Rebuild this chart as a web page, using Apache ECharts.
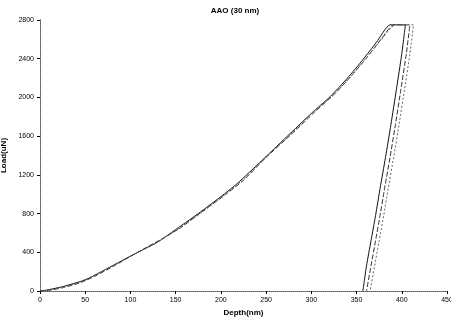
<!DOCTYPE html>
<html>
<head>
<meta charset="utf-8">
<script src="https://cdn.jsdelivr.net/npm/echarts@6/dist/echarts.min.js"></script>
<style>html,body{margin:0;padding:0;background:#fff}#c{width:451px;height:326px}</style>
</head>
<body>
<div id="c"></div>
<script>
var chartTitle = "AAO (30 nm)";
var xName = "Depth(nm)";
var yName = "Load(uN)";

var depth1 = [0,10,25,40,51,70,103,130,147,175,200,218,245,273,300,321,340,357,372,387, 393,400,404, 400,394,388,382,376,371,366,361,357];
var load1  = [0,14,45,85,118,210,375,505,615,800,975,1110,1345,1595,1835,2010,2200,2390,2570,2750, 2750,2750,2750, 2450,2080,1720,1380,1060,780,520,260,0];

var depth2 = [0,12,28,45,60,80,108,135,155,180,205,225,250,278,305,325,345,362,377,391, 397,404,409, 405,399,393,387,381,376,371,366,361];
var load2  = [0,10,40,88,150,250,400,540,650,825,995,1145,1380,1620,1860,2030,2230,2420,2600,2750, 2750,2750,2750, 2450,2080,1720,1380,1060,780,520,260,0];

var depth3 = [0,8,22,38,55,75,100,128,150,178,202,222,248,276,302,324,343,360,376,393, 400,407,413, 409,403,397,391,385,380,375,370,365];
var load3  = [0,8,35,75,140,235,360,495,625,805,980,1130,1370,1610,1850,2020,2215,2400,2580,2750, 2750,2750,2750, 2450,2080,1720,1380,1060,780,520,260,0];

function pairs(xs, ys){ return xs.map(function(x,i){ return [x, ys[i]]; }); }

var chart = echarts.init(document.getElementById('c'), null, {renderer:'canvas'});
var font = 'Liberation Sans';
chart.setOption({
  animation:false,
  backgroundColor:'#fff',
  title:{text:chartTitle,left:230,top:2,textAlign:'center',
    textStyle:{fontFamily:font,fontSize:8,fontWeight:'bold',color:'#000'}},
  grid:{left:40,right:4,top:20,bottom:35,containLabel:false,outerBoundsMode:'none'},
  xAxis:[{type:'value',min:0,max:450,interval:50,
    name:xName,nameLocation:'middle',nameGap:18,
    nameTextStyle:{fontFamily:font,fontSize:8,fontWeight:'bold',color:'#000'},
    axisLine:{lineStyle:{color:'#000',width:1}},
    axisTick:{show:true,length:3,lineStyle:{color:'#000'}},
    axisLabel:{fontFamily:font,fontSize:7,color:'#000',margin:6,formatter:function(v){return String(v);}},
    splitLine:{show:false}},
   {type:'value',position:'top',min:0,max:450,
    axisLine:{show:true,lineStyle:{color:'#888',type:'dotted',width:1}},
    axisTick:{show:false},axisLabel:{show:false},splitLine:{show:false}}],
  yAxis:[{type:'value',min:0,max:2800,interval:400,
    name:yName,nameLocation:'middle',nameGap:25,nameRotate:90,
    nameTextStyle:{fontFamily:font,fontSize:8,fontWeight:'bold',color:'#000'},
    axisLine:{show:true,lineStyle:{color:'#000',width:1}},
    axisTick:{show:true,length:3,lineStyle:{color:'#000'}},
    axisLabel:{fontFamily:font,fontSize:7,color:'#000',margin:6,formatter:function(v){return String(v);}},
    splitLine:{show:false}},
   {type:'value',position:'right',min:0,max:2800,
    axisLine:{show:true,lineStyle:{color:'#888',type:'dotted',width:1}},
    axisTick:{show:false},axisLabel:{show:false},splitLine:{show:false}}],
  series:[
    {type:'line',data:pairs(depth1,load1),showSymbol:false,smooth:0.2,
     lineStyle:{color:'#111',width:1,type:'solid'}},
    {type:'line',data:pairs(depth2,load2),showSymbol:false,smooth:0.2,
     lineStyle:{color:'#333',width:1,type:[5,2]}},
    {type:'line',data:pairs(depth3,load3),showSymbol:false,smooth:0.2,
     lineStyle:{color:'#666',width:1,type:[2,2]}}
  ]
});
</script>
</body>
</html>
